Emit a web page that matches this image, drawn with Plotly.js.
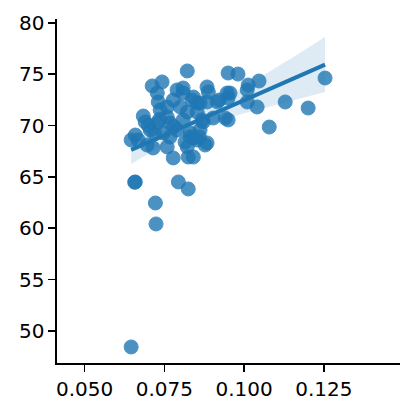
<!DOCTYPE html>
<html>
<head>
<meta charset="utf-8">
<script src="https://cdn.plot.ly/plotly-3.0.1.min.js"></script>
<style>
  html, body { margin: 0; padding: 0; background: #ffffff; }
  #chart { width: 415px; height: 414px; }
</style>
</head>
<body>
<div id="chart"></div>
<script>

/* ==========================================
   DATA
========================================== */

const xValues = [
    0.0646, 0.0659, 0.0657, 0.0722, 0.0724, 0.0794, 0.0825,
    0.0646, 0.0659, 0.0668, 0.0684, 0.0690, 0.0696, 0.0715,
    0.0712, 0.0743, 0.0728, 0.0731, 0.0759, 0.0778, 0.0825,
    0.0790, 0.0809, 0.0841, 0.0884, 0.0888, 0.0853, 0.0884,
    0.0916, 0.0947, 0.0941, 0.0903, 0.0869, 0.0809, 0.0759,
    0.0728, 0.0706, 0.0747, 0.0768, 0.0831, 0.0853, 0.0884,
    0.0822, 0.0841, 0.0862, 0.0790, 0.0768, 0.0737, 0.0759,
    0.0800, 0.0822, 0.0778, 0.0809, 0.0822, 0.0950, 0.0981,
    0.1047, 0.1013, 0.1010, 0.0956, 0.1041, 0.1010, 0.0950,
    0.0950, 0.1129, 0.1201, 0.1079, 0.1254, 0.0922, 0.0862,
    0.0837, 0.0872, 0.0853, 0.0831, 0.0878, 0.0841, 0.0700,
    0.0720, 0.0735, 0.0815, 0.0860, 0.0780
];

const yValues = [
    48.44, 64.51, 64.48, 62.46, 60.42, 64.51, 63.83,
    68.60, 69.08, 68.60, 70.93, 70.35, 68.11, 67.82,
    73.86, 74.25, 73.17, 72.30, 67.92, 66.85, 66.94,
    73.47, 73.66, 72.78, 73.76, 73.27, 72.20, 72.30,
    72.30, 73.17, 70.74, 70.74, 70.55, 70.55, 70.84,
    70.25, 69.57, 69.28, 68.89, 69.28, 68.60, 68.31,
    67.92, 68.79, 69.57, 69.57, 70.25, 71.52, 71.81,
    71.81, 71.32, 72.49, 73.17, 75.32, 75.12, 75.02,
    74.34, 73.95, 73.47, 73.17, 71.81, 72.30, 70.55,
    72.69, 72.30, 71.71, 69.86, 74.63, 72.49, 72.20,
    72.49, 70.35, 71.32, 68.89, 68.11, 66.94, 70.00,
    69.20, 70.60, 68.40, 68.90, 69.90
];

const xTicks = [0.05, 0.075, 0.1, 0.125];
const yTicks = [50, 55, 60, 65, 70, 75, 80];

const BLUE = "#1f77b4";


/* ==========================================
   LINEAR FIT + 95% CONFIDENCE BAND
========================================== */

function fitLine(xs, ys){

    const n = xs.length;

    const mx = xs.reduce((a,b)=>a+b,0)/n;
    const my = ys.reduce((a,b)=>a+b,0)/n;

    let sxx = 0, sxy = 0;

    xs.forEach((x,i)=>{
        sxx += (x-mx)*(x-mx);
        sxy += (x-mx)*(ys[i]-my);
    });

    const slope = sxy/sxx;
    const icpt = my - slope*mx;

    let sse = 0;
    xs.forEach((x,i)=>{
        const r = ys[i] - (icpt + slope*x);
        sse += r*r;
    });

    const s = Math.sqrt(sse/(n-2));

    const lo = Math.min(...xs);
    const hi = Math.max(...xs);

    const grid = [], mid = [], upper = [], lower = [];

    for(let k=0;k<=100;k++){
        const x = lo + (hi-lo)*k/100;
        const yhat = icpt + slope*x;
        const se = s*Math.sqrt(1/n + (x-mx)*(x-mx)/sxx);
        grid.push(x);
        mid.push(yhat);
        upper.push(yhat + 1.99*se);
        lower.push(yhat - 1.99*se);
    }

    return {grid, mid, upper, lower};
}


/* ==========================================
   DRAW
========================================== */

function drawChart(){

    const fit = fitLine(xValues, yValues);

    const traces = [
        {
            type:"scatter",
            mode:"markers",
            x:xValues,
            y:yValues,
            marker:{
                size:14,
                color:BLUE,
                opacity:0.8,
                line:{color:BLUE, width:1}
            },
            hoverinfo:"skip"
        },
        {
            type:"scatter",
            mode:"lines",
            x:fit.grid.concat(fit.grid.slice().reverse()),
            y:fit.upper.concat(fit.lower.slice().reverse()),
            fill:"toself",
            fillcolor:"rgba(31,119,180,0.15)",
            line:{width:0},
            hoverinfo:"skip"
        },
        {
            type:"scatter",
            mode:"lines",
            x:fit.grid,
            y:fit.mid,
            line:{color:BLUE, width:4},
            hoverinfo:"skip"
        }
    ];

    const axisFont = {family:"DejaVu Sans", size:20, color:"#000000"};

    const layout = {
        width:415,
        height:414,
        showlegend:false,
        paper_bgcolor:"#ffffff",
        plot_bgcolor:"#ffffff",
        margin:{l:57, r:15, t:19, b:51},
        xaxis:{
            range:[0.04135, 0.1489],
            tickvals:xTicks,
            ticktext:xTicks.map(v=>v.toFixed(3)),
            ticks:"outside",
            ticklen:7,
            tickwidth:1.6,
            tickcolor:"#000000",
            showline:true,
            linewidth:1.6,
            linecolor:"#000000",
            showgrid:false,
            zeroline:false,
            tickfont:axisFont
        },
        yaxis:{
            range:[46.88, 80.38],
            tickvals:yTicks,
            ticks:"outside",
            ticklen:7,
            tickwidth:1.6,
            tickcolor:"#000000",
            showline:true,
            linewidth:1.6,
            linecolor:"#000000",
            showgrid:false,
            zeroline:false,
            tickfont:axisFont
        }
    };

    Plotly.newPlot("chart", traces, layout, {displayModeBar:false, staticPlot:true});
}

drawChart();

</script>
</body>
</html>
